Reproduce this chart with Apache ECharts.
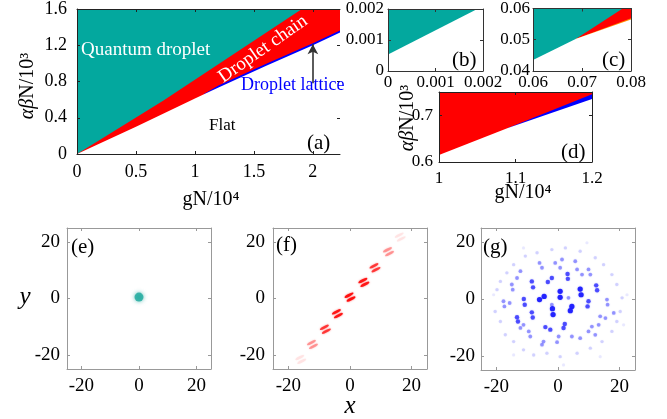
<!DOCTYPE html>
<html><head><meta charset="utf-8">
<script src="https://cdn.jsdelivr.net/npm/echarts@6/dist/echarts.min.js"></script>
<style>html,body{margin:0;padding:0;background:#fff}#c{width:667px;height:419px}</style>
</head><body><div id="c"></div><script>
// ---------- data ----------
// panel (a): phase boundaries, x = gN/1e4, y = alpha*beta*N/1e3
const aTop     = [[0,1.6],[2.23,1.6]];
const aUpper   = [[0,0],[0.73,0.588],[1.907,1.6],[2.23,1.6]];          // quantum droplet / droplet chain
const aLattice = [[1.076,0.662],[1.2,0.757],[1.6,0.993],[2.0,1.223],[2.23,1.362]]; // top of droplet-lattice band
const aLower   = [[0,0],[0.5,0.3],[1.0,0.612],[1.09,0.668],[1.2,0.735],[1.6,0.97],[2.0,1.2],[2.23,1.34]]; // flat below
const aArrow   = [[2.0,0.78],[2.0,1.21]];
// panel (b)
const bTop      = [[0,0.002],[0.002,0.002]];
const bBoundary = [[0,0.000534],[0.00188,0.002],[0.002,0.00209]];
// panel (c)
const cTop      = [[0.06,0.06],[0.08,0.06]];
const cRedTop   = [[0.0688,0.0503],[0.0783,0.06],[0.08,0.0618]];
const cOrange   = [[0.0688,0.0503],[0.08,0.0569]];
const cLower    = [[0.06,0.0435],[0.0688,0.0503],[0.08,0.0565]];
// panel (d)
const dTop      = [[1,0.75],[1.2,0.75]];
const dLattice  = [[1.09,0.673],[1.2,0.745]];
const dLower    = [[1.0,0.615],[1.09,0.673],[1.2,0.735]];
// panel (e): single droplet
const eDroplet  = [[0,0.5]];
// panel (f): droplet chain centres and relative intensity
const fCenters  = [[0,0.5],[4.5,5.7],[8.1,10.9],[12.5,16.6],[16.3,21.8],[-4.1,-5.4],[-8.0,-10.9],[-12.2,-16.3],[-16.0,-21.6]];
const fWeight   = [1,0.95,0.75,0.35,0.08,0.95,0.75,0.35,0.08];
// panel (g): droplet lattice peaks by intensity class
const gCore  = [[0.7,2.7],[0.7,0.6],[-4.5,0.9],[-6.0,-0.2],[-1.8,-3.4],[-1.6,-5.5],[4.5,-2.6],[4.0,-4.1],[7.2,3.5],[7.5,1.5]];
const gInner = [[-8.5,6.2],[-8.1,4.1],[-3.3,6.0],[-2.0,7.4],[3.2,7.1],[3.1,8.8],[-11.1,0.0],[-10.8,-2.0],[-8.5,-4.7],[-8.2,-6.5],[9.6,-2.6],[9.9,-0.8],[2.2,-8.8],[1.8,-10.2],[-4.1,-9.9],[-2.5,-10.8],[12.7,3.1],[12.4,4.8],[-13.3,-6.4],[-13.0,-7.9]];
const gMid   = [[-6.0,12.7],[-5.2,11.0],[-0.9,12.7],[1.3,13.9],[0.7,11.0],[5.6,13.3],[6.2,10.4],[9.9,10.4],[10.5,8.6],[7.8,8.6],[-12.2,9.8],[-13.3,7.4],[-15.0,5.1],[-14.7,3.3],[-17.7,-0.8],[-15.7,-1.4],[-17.4,-2.6],[15.9,-0.2],[16.1,-2.0],[13.7,-6.1],[15.4,-6.7],[18.1,-4.9],[-9.5,-11.4],[-9.0,-13.2],[-5.2,-16.1],[-4.7,-15.0],[-0.3,-15.2],[0.2,-13.2],[4.5,-13.2],[7.2,-13.8],[9.9,-11.4],[11.0,-9.7],[-11.2,-9.1],[-12.2,-10.2],[13.2,-9.1],[12.1,-12.6],[3.4,0.4],[-2.0,-2.0]];
const gFaint = [[-18.7,6.2],[-19.8,3.3],[-20.4,-4.4],[-18.7,-7.9],[-17.1,-12.6],[-14.4,-15.0],[-11.2,-17.9],[-7.9,-19.7],[-3.6,-19.1],[0.7,-20.3],[6.2,-19.1],[10.5,-17.3],[14.3,-15.0],[17.5,-11.4],[19.1,-7.9],[20.2,-4.4],[20.8,0.4],[19.1,5.1],[17.5,8.6],[14.8,12.1],[12.1,14.5],[7.2,16.8],[2.4,18.0],[-2.0,17.4],[-6.8,16.3],[-10.6,15.1],[-14.4,12.1],[-16.6,9.2]];
const gFainter = [[-20.9,1.5],[22.4,1.5],[21.3,-9.1],[-14.4,-19.7],[13.7,-20.3],[1.8,-23.2],[-11.2,18.0],[9.4,19.8]];
// axes
const xRange = [[0,2.23],[0,0.002],[0.06,0.08],[1,1.2],[-25,25],[-25,25],[-25,25]];
const yRange = [[0,1.6],[0,0.002],[0.04,0.06],[0.6,0.75],[-25,25],[-25,25],[-25,25]];
const xTicks = [[0,0.5,1,1.5,2],[0,0.001,0.002],[0.06,0.07,0.08],[1,1.1,1.2],[-20,0,20],[-20,0,20],[-20,0,20]];
const yTicks = [[0,0.4,0.8,1.2,1.6],[0,0.001,0.002],[0.04,0.05,0.06],[0.6,0.7],[-20,0,20],[-20,0,20],[-20,0,20]];

// ---------- layout / style ----------
const F = 'Liberation Serif';
const TEAL = '#03a89e', RED = '#ff0000', BLUE = '#0000ff', ORANGE = '#ff8a00';
const grids = [
  {left:77, top:7, width:263, height:147},
  {left:388, top:9, width:95, height:62},
  {left:533, top:7, width:98, height:64},
  {left:439, top:92, width:153, height:70},
  {left:67, top:228, width:144, height:141},
  {left:273, top:228, width:154, height:141},
  {left:481, top:228, width:154, height:142}
];
const lineCol = ['#222','#333','#333','#222','#999','#999','#999'];
const fsz = [18,17,17,17,19,19,19];
const xMargin = [9,3,3,8,8,8,8];
const yMargin = [10,4,3,6,7,8,6];
const fmt = v => String(+(+v).toFixed(5));

const xAxis = [], yAxis = [];
for (let i = 0; i < 7; i++) {
  const base = (r, ticks, pos, show, margin) => ({
    type:'value', gridIndex:i, position:pos, min:r[0], max:r[1], z:10,
    axisLine:{show: !(i===0 && pos==='right'), onZero:false, lineStyle:{color:lineCol[i], width:1}},
    axisTick:{show:true, inside:true, length:3, customValues:ticks, lineStyle:{color:lineCol[i]}},
    axisLabel:{show:show, customValues:ticks, margin:margin, fontSize:fsz[i], fontFamily:F, color:'#000', formatter:fmt},
    splitLine:{show:false}
  });
  xAxis[i] = base(xRange[i], xTicks[i], 'bottom', true, xMargin[i]);
  xAxis[7+i] = base(xRange[i], xTicks[i], 'top', false, 0);
  yAxis[i] = base(yRange[i], yTicks[i], 'left', true, yMargin[i]);
  yAxis[7+i] = base(yRange[i], yTicks[i], 'right', false, 0);
}

function area(gi, data, color) {
  return {type:'line', xAxisIndex:gi, yAxisIndex:gi, data:data, symbol:'none', showSymbol:false,
    lineStyle:{width:0}, areaStyle:{color:color, opacity:1, origin:'start'}, silent:true, animation:false};
}

const series = [
  area(0, aTop, TEAL), area(0, aUpper, RED), area(0, aLattice, BLUE),
  Object.assign(area(0, aLower, '#fff'), {
    markLine:{silent:true, symbol:['none','arrow'], symbolSize:[8,10], label:{show:false},
      lineStyle:{color:'#333', width:1.6, type:'solid'}, animation:false,
      data:[[{coord:aArrow[0]},{coord:aArrow[1]}]]}
  }),
  area(1, bTop, TEAL), area(1, bBoundary, '#fff'),
  area(2, cTop, TEAL), area(2, cRedTop, RED), area(2, cOrange, ORANGE), area(2, cLower, '#fff'),
  area(3, dTop, RED), area(3, dLattice, BLUE), area(3, dLower, '#fff'),
  {type:'scatter', xAxisIndex:4, yAxisIndex:4, data:eDroplet, symbolSize:9, animation:false,
    itemStyle:{color:'#1aa99c', shadowBlur:4, shadowColor:'rgba(20,160,150,0.8)'}},
  {type:'scatter', xAxisIndex:5, yAxisIndex:5, animation:false,
    symbol:'path://M0,1.3a5,1.3 0 1,0 10,0a5,1.3 0 1,0 -10,0Z M0,5.4a5,1.3 0 1,0 10,0a5,1.3 0 1,0 -10,0Z',
    symbolSize:[10,7], symbolRotate:28,
    data: fCenters.map((c, k) => ({value:c, itemStyle:{opacity:fWeight[k]}})),
    itemStyle:{color:'#ff1010', shadowBlur:2, shadowColor:'rgba(255,0,0,0.6)'}}
];
const gClasses = [[gFainter,3.2,0.07],[gFaint,3.4,0.15],[gMid,3.8,0.38],[gInner,4.4,0.7],[gCore,5.2,0.95]];
gClasses.forEach(([pts, sz, op]) => series.push({
  type:'scatter', xAxisIndex:6, yAxisIndex:6, data:pts, symbolSize:sz, animation:false,
  itemStyle:{color:'#1c1cff', opacity:op, shadowBlur:1.5, shadowColor:'rgba(30,30,255,0.5)'}
}));

function txt(x, y, text, size, o) {
  o = o || {};
  const st = {text:text, x:0, y:0, fontSize:size, fontFamily:F, fill:o.fill||'#000',
    align:o.align||'left', verticalAlign:'middle', fontStyle:o.italic?'italic':'normal'};
  if (o.rich) st.rich = o.rich;
  return {type:'text', x:x, y:y, rotation:o.rot||0, z:100, silent:true, style:st};
}
const richAB = {m:{fontStyle:'italic', fontFamily:F, fontSize:20, fill:'#000'}, n:{fontFamily:F, fontSize:20, fill:'#000'}};
const graphic = [
  txt(81, 50, 'Quantum droplet', 19, {fill:'#fff'}),
  txt(263, 49, 'Droplet chain', 19, {fill:'#fff', align:'center', rot:35*Math.PI/180}),
  txt(241, 85, 'Droplet lattice', 18, {fill:BLUE}),
  txt(209, 126, 'Flat', 17),
  txt(307, 143, '(a)', 21),
  txt(452, 60, '(b)', 21),
  txt(602, 60, '(c)', 21),
  txt(561, 152, '(d)', 21),
  txt(71, 247, '(e)', 21),
  txt(276, 245, '(f)', 21),
  txt(483, 247, '(g)', 21),
  txt(28, 86, '{m|αβ}{n|N/10³}', 20, {align:'center', rot:Math.PI/2, rich:richAB}),
  txt(408, 118, '{m|αβ}{n|N/10³}', 20, {align:'center', rot:Math.PI/2, rich:richAB}),
  txt(211, 200, 'gN/10⁴', 20, {align:'center'}),
  txt(523, 193, 'gN/10⁴', 20, {align:'center'}),
  txt(25, 297, 'y', 25, {align:'center', italic:true}),
  txt(350, 406, 'x', 25, {align:'center', italic:true})
];

const chart = echarts.init(document.getElementById('c'), null, {renderer:'canvas'});
chart.setOption({
  animation:false,
  backgroundColor:'#fff',
  grid: grids.map(g => Object.assign({containLabel:false}, g)),
  xAxis: xAxis, yAxis: yAxis, series: series, graphic: graphic
});
</script></body></html>
